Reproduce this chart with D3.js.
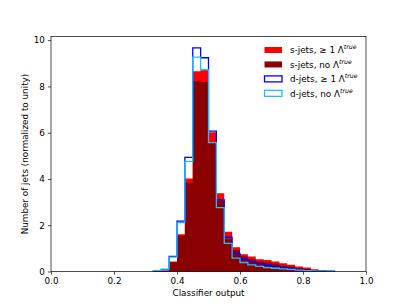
<!DOCTYPE html>
<html>
<head>
<meta charset="utf-8">
<script src="https://cdn.jsdelivr.net/npm/d3@7"></script>
<style>
  body { margin: 0; background: #fff; }
  text { font-family: "DejaVu Sans", sans-serif; fill: #000; }
</style>
</head>
<body>
<div id="chart"></div>
<script>
// bin lower edges, bin width 0.025
let binStarts = [0.325, 0.35, 0.375, 0.4, 0.425, 0.45, 0.475, 0.5, 0.525, 0.55, 0.575, 0.6,
                 0.625, 0.65, 0.675, 0.7, 0.725, 0.75, 0.775, 0.8, 0.825, 0.85, 0.875];
let binWidth = 0.025;

let sJetsLambda = [0, 0.03, 0.43, 1.61, 4.02, 8.66, 8.72, 6.02, 3.38, 1.72, 1.05, 0.75,
                   0.65, 0.53, 0.5, 0.43, 0.36, 0.29, 0.22, 0.17, 0.1, 0.04, 0.01];
let sJetsNo = [0, 0.03, 0.40, 1.55, 3.84, 8.23, 8.19, 5.57, 3.06, 1.42, 0.93, 0.65,
               0.53, 0.43, 0.39, 0.33, 0.26, 0.22, 0.14, 0.11, 0.07, 0.03, 0.01];
let dJetsLambda = [0.02, 0.08, 0.65, 2.18, 4.93, 9.67, 9.24, 6.07, 3.10, 1.48, 0.78, 0.53,
                   0.43, 0.33, 0.27, 0.22, 0.17, 0.13, 0.09, 0.06, 0.04, 0.02, 0.01];
let dJetsNo = [0.03, 0.1, 0.62, 2.11, 4.76, 9.27, 8.72, 5.57, 2.76, 1.22, 0.58, 0.39,
               0.29, 0.22, 0.17, 0.14, 0.11, 0.09, 0.06, 0.04, 0.03, 0.02, 0.01];

let xTicks = [0.0, 0.2, 0.4, 0.6, 0.8, 1.0];
let yTicks = [0, 2, 4, 6, 8, 10];

let width = 407, height = 305;
let margin = {left: 51, right: 41, top: 36.6, bottom: 33.5};

let svg = d3.select("#chart")
    .append("svg")
    .attr("width", width)
    .attr("height", height);

let x = d3.scaleLinear()
    .domain([0, 1])
    .range([margin.left, width - margin.right]);
let y = d3.scaleLinear()
    .domain([0, 9.67 * 1.05])
    .range([height - margin.bottom, margin.top]);

// outline of a histogram as a list of step points
function stepPoints(values) {
    let pts = [[binStarts[0], 0]];
    values.forEach(function (v, i) {
        pts.push([binStarts[i], v]);
        pts.push([binStarts[i] + binWidth, v]);
    });
    pts.push([binStarts[binStarts.length - 1] + binWidth, 0]);
    return pts;
}

let line = d3.line()
    .x(function (d) { return x(d[0]); })
    .y(function (d) { return y(d[1]); });

let series = [
    {name: "s-jets,  \u2265 1 \u039b", values: sJetsLambda, fill: "#ff0000", stroke: "none"},
    {name: "s-jets, no \u039b", values: sJetsNo, fill: "#8b0000", stroke: "none"},
    {name: "d-jets,  \u2265 1 \u039b", values: dJetsLambda, fill: "none", stroke: "#0000ff"},
    {name: "d-jets, no \u039b", values: dJetsNo, fill: "none", stroke: "#1ec0f5"}
];

series.forEach(function (s) {
    svg.append("path")
        .attr("d", line(stepPoints(s.values)) + (s.fill !== "none" ? "Z" : ""))
        .attr("fill", s.fill)
        .attr("stroke", s.stroke)
        .attr("stroke-width", 1.3)
        .attr("stroke-linejoin", "miter");
});

// axes
let xAxis = svg.append("g")
    .attr("transform", `translate(0,${height - margin.bottom})`)
    .call(d3.axisBottom(x).tickValues(xTicks).tickFormat(d3.format(".1f")).tickSize(3.1).tickPadding(3));
let yAxis = svg.append("g")
    .attr("transform", `translate(${margin.left},0)`)
    .call(d3.axisLeft(y).tickValues(yTicks).tickFormat(d3.format("d")).tickSize(3.1).tickPadding(3));

[xAxis, yAxis].forEach(function (ax) {
    ax.select(".domain").remove();
    ax.selectAll("line").attr("stroke", "#000").attr("stroke-width", 0.7);
    ax.selectAll("text")
        .style("font-family", "DejaVu Sans")
        .style("font-size", "8.8px")
        .attr("fill", "#000");
});

// frame
svg.append("rect")
    .attr("x", x(0))
    .attr("y", y.range()[1])
    .attr("width", x(1) - x(0))
    .attr("height", y.range()[0] - y.range()[1])
    .attr("fill", "none")
    .attr("stroke", "#000")
    .attr("stroke-width", 0.7);

// axis labels
svg.append("text")
    .attr("x", (x(0) + x(1)) / 2)
    .attr("y", 296)
    .style("text-anchor", "middle")
    .style("font-size", "8.8px")
    .text("Classifier output");

svg.append("text")
    .attr("transform", `translate(28,${(y.range()[0] + y.range()[1]) / 2})rotate(-90)`)
    .style("text-anchor", "middle")
    .style("font-size", "8.8px")
    .text("Number of jets (normalized to unity)");

// legend
let legend = svg.append("g");
series.forEach(function (s, i) {
    let cy = 50 + i * 14.45;
    legend.append("rect")
        .attr("x", 264.5)
        .attr("y", cy - 3)
        .attr("width", 17.5)
        .attr("height", 6)
        .attr("fill", s.fill === "none" ? "#fff" : s.fill)
        .attr("stroke", s.stroke === "none" ? "none" : s.stroke)
        .attr("stroke-width", 1.3);
    let t = legend.append("text")
        .attr("x", 290)
        .attr("y", cy + 3.2)
        .style("font-size", "8.8px");
    t.append("tspan").text(s.name);
    t.append("tspan")
        .attr("dy", -3.8)
        .style("font-size", "6.2px")
        .style("font-style", "italic")
        .text("true");
});
</script>
</body>
</html>
